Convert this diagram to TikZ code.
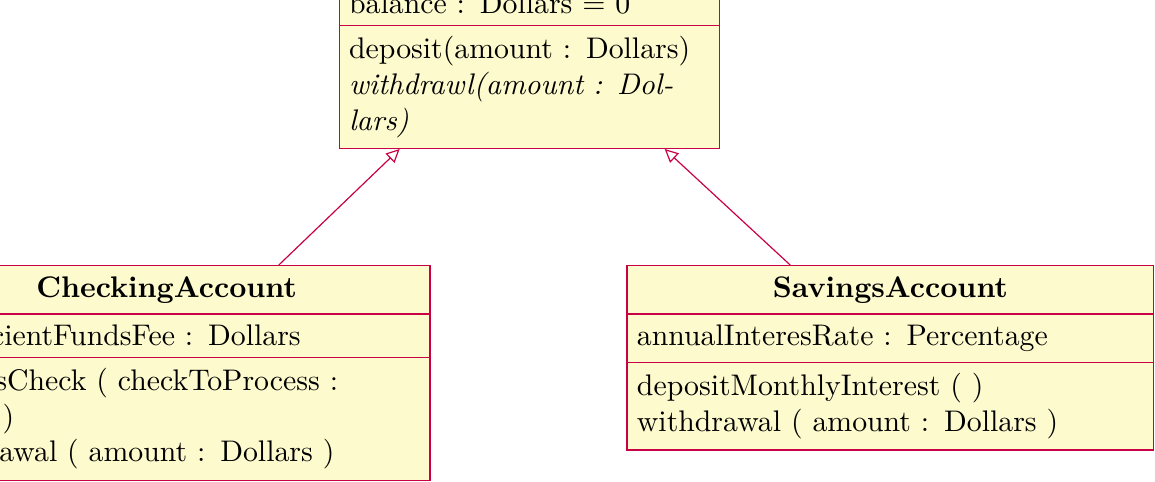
\documentclass[tikz,border=0pt]{standalone}
\usepackage{amsmath, amssymb}
\usetikzlibrary{arrows.meta, shapes.multipart}

\definecolor{umlline}{RGB}{200,0,70}
\definecolor{umlfill}{RGB}{253,250,205}

\begin{document}
\begin{tikzpicture}[x=1pt, y=1pt,
  classbox/.style={rectangle split, rectangle split parts=3, draw=umlline, fill=umlfill, align=left, inner ysep=3.45pt},
  inherit/.style={draw=umlline, -{Triangle[open, length=4.5pt, width=4.3pt]}}]
  \useasboundingbox (0,0) rectangle (387.6,161.7);
  \clip (0,0) rectangle (387.6,161.7);

  % Parent class (top of it is cut off)
  \node (bank) [classbox, text width=121.1pt, anchor=south] at (177.7,111.7)
    {\rule{0pt}{7pt}
     \nodepart{two}\strut\\balance : Dollars = 0
     \nodepart{three}deposit(amount : Dollars)\\\textit{withdrawl(amount : Dol-}\\\textit{lars)}};

  % Subclasses
  \node (checking) [classbox, text width=170.1pt, anchor=north] at (55.9,72.8)
    {\hfill\textbf{CheckingAccount}\hfill\mbox{}
     \nodepart{two}insufficientFundsFee : Dollars
     \nodepart{three}processCheck ( checkToProcess :\\Check )\\withdrawal ( amount : Dollars )};
  \node (savings) [classbox, text width=170.1pt, anchor=north] at (298.8,72.8)
    {\hfill\textbf{SavingsAccount}\hfill\mbox{}
     \nodepart{two}annualInteresRate : Percentage
     \nodepart{three}depositMonthlyInterest ( )\\withdrawal ( amount : Dollars )};

  % Inheritance arrows
  \draw[inherit] (checking) -- (bank);
  \draw[inherit] (savings) -- (bank);
\end{tikzpicture}
\end{document}
